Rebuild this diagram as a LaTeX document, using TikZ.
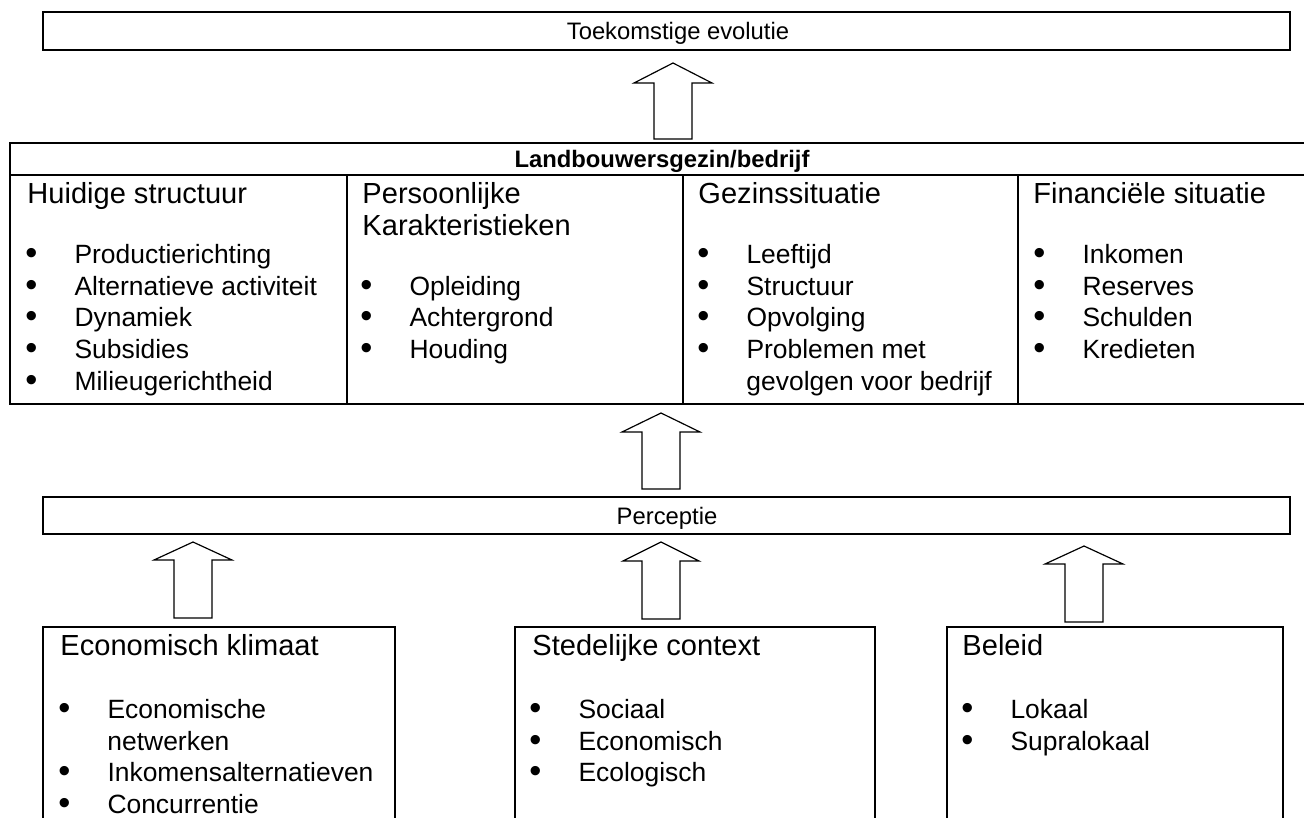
\documentclass[tikz,border=0pt]{standalone}
\usepackage{fontspec}
\setmainfont{Liberation Sans}
\newcommand\itm[1]{\makebox[20.6pt][l]{\raisebox{-0.6pt}{\scalebox{1.3}{\textbullet}}}#1}
\begin{document}
\begin{tikzpicture}[x=0.42pt,y=-0.42pt,
    box/.style={line width=0.75pt},
    blok/.style={line width=0.5pt,line join=miter},
    txt/.style={inner sep=0pt,anchor=base west,font=\fontsize{11.1}{13.3}\selectfont},
    titel/.style={txt,font=\fontsize{12.2}{13.3}\selectfont},
    kop/.style={inner sep=0pt,anchor=base,font=\fontsize{10}{12}\selectfont}]

            \useasboundingbox (0,0) rectangle (1304,817);
            \clip (0,0) rectangle (1304,817);

            % toekomst
            \draw[box] (43,12) rectangle (1290,50);
            \node[kop] (toek) at (678,39) {Toekomstige evolutie};

            \draw[blok] (673,63) -- (712,83) -- (692,83) -- (692,139) -- (654,139) -- (654,83) -- (634,83) -- cycle;

            % landbouwersgezin
            \draw[box] (10,143) rectangle (1320,404);
            \draw[box] (10,175) -- (1320,175);
            \draw[box] (347,175) -- (347,404);
            \draw[box] (683,175) -- (683,404);
            \draw[box] (1018,175) -- (1018,404);
            \node[kop,font=\fontsize{10}{12}\selectfont\bfseries] (gezin) at (662,167) {Landbouwersgezin/bedrijf};

            \node[titel] (hs) at (27,203) {Huidige structuur};
            \node[txt] (hs1) at (25,263) {\itm{Productierichting}};
            \node[txt] (hs2) at (25,295) {\itm{Alternatieve activiteit}};
            \node[txt] (hs3) at (25,326) {\itm{Dynamiek}};
            \node[txt] (hs4) at (25,358) {\itm{Subsidies}};
            \node[txt] (hs5) at (25,390) {\itm{Milieugerichtheid}};

            \node[titel] (pk) at (362,203) {Persoonlijke};
            \node[titel] (pkb) at (362,235) {Karakteristieken};
            \node[txt] (pk1) at (360,295) {\itm{Opleiding}};
            \node[txt] (pk2) at (360,326) {\itm{Achtergrond}};
            \node[txt] (pk3) at (360,358) {\itm{Houding}};

            \node[titel] (gs) at (698,203) {Gezinssituatie};
            \node[txt] (gs1) at (697,263) {\itm{Leeftijd}};
            \node[txt] (gs2) at (697,295) {\itm{Structuur}};
            \node[txt] (gs3) at (697,326) {\itm{Opvolging}};
            \node[txt] (gs4) at (697,358) {\itm{Problemen met}};
            \node[txt] (gs5) at (746,390) {gevolgen voor bedrijf};

            \node[titel] (fs) at (1033,203) {Financiële situatie};
            \node[txt] (fs1) at (1033,263) {\itm{Inkomen}};
            \node[txt] (fs2) at (1033,295) {\itm{Reserves}};
            \node[txt] (fs3) at (1033,326) {\itm{Schulden}};
            \node[txt] (fs4) at (1033,358) {\itm{Kredieten}};

            \draw[blok] (661,413) -- (700,432) -- (680,432) -- (680,489) -- (642,489) -- (642,432) -- (622,432) -- cycle;

            % perceptie
            \draw[box] (43,497) rectangle (1290,534);
            \node[kop] (perc) at (667,524) {Perceptie};

            \draw[blok] (193,542) -- (232,560) -- (212,560) -- (212,618) -- (174,618) -- (174,560) -- (154,560) -- cycle;
            \draw[blok] (661,542) -- (699,561) -- (680,561) -- (680,619) -- (642,619) -- (642,561) -- (623,561) -- cycle;
            \draw[blok] (1084,546) -- (1123,564) -- (1103,564) -- (1103,622) -- (1065,622) -- (1065,564) -- (1045,564) -- cycle;

            % onderste kaders
            \draw[box] (43,627) rectangle (395,840);
            \node[titel] (ek) at (60,655) {Economisch klimaat};
            \node[txt] (ek1) at (58,718) {\itm{Economische}};
            \node[txt] (ek1b) at (107,750) {netwerken};
            \node[txt] (ek2) at (58,781) {\itm{Inkomensalternatieven}};
            \node[txt] (ek3) at (58,813) {\itm{Concurrentie}};

            \draw[box] (515,627) rectangle (875,840);
            \node[titel] (sc) at (532,655) {Stedelijke context};
            \node[txt] (sc1) at (529,718) {\itm{Sociaal}};
            \node[txt] (sc2) at (529,750) {\itm{Economisch}};
            \node[txt] (sc3) at (529,781) {\itm{Ecologisch}};

            \draw[box] (947,627) rectangle (1283,840);
            \node[titel] (bl) at (962,655) {Beleid};
            \node[txt] (bl1) at (961,718) {\itm{Lokaal}};
            \node[txt] (bl2) at (961,750) {\itm{Supralokaal}};

\end{tikzpicture}
\end{document}
